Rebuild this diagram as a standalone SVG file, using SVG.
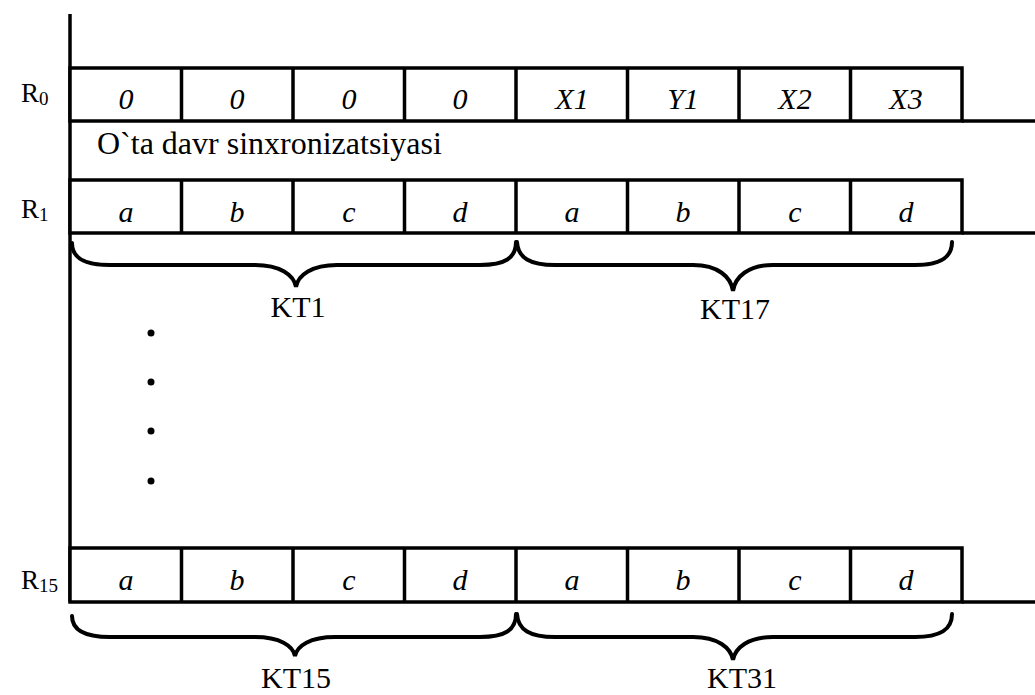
<svg xmlns="http://www.w3.org/2000/svg" width="1035" height="695" viewBox="0 0 1035 695">
<style>
.ln{stroke:#000;stroke-width:3.5;fill:none}
.br{stroke:#000;stroke-width:4;fill:none;stroke-linecap:round}
.cell{fill:#fff;stroke:#000;stroke-width:3.5}
.ct{font-family:"Liberation Serif","Times New Roman",serif;font-style:italic;font-size:30px;text-anchor:middle}
.lb{font-family:"Liberation Serif","Times New Roman",serif;font-size:30px}
.sy{font-family:"Liberation Serif","Times New Roman",serif;font-size:32px}
.rl{font-family:"Liberation Serif","Times New Roman",serif;font-size:27px}
.sub{font-size:19px}
</style>
<rect width="1035" height="695" fill="#fff"/>
<g id="connectors">
<line class="ln" x1="70" y1="14" x2="70" y2="602"/>
<line class="ln" x1="962" y1="121" x2="1035" y2="121"/>
<line class="ln" x1="962" y1="233" x2="1035" y2="233"/>
<line class="ln" x1="962" y1="602" x2="1035" y2="602"/>
</g>
<g id="R0">
<text class="rl" x="21" y="102">R<tspan class="sub" dy="3">0</tspan></text>
<rect class="cell" x="70" y="68" width="892" height="53"/>
<path class="ln" d="M181.5 68V121M293 68V121M404.5 68V121M516 68V121M627.5 68V121M739 68V121M850.5 68V121"/>
<text class="ct" x="126" y="109">0</text>
<text class="ct" x="237" y="109">0</text>
<text class="ct" x="349" y="109">0</text>
<text class="ct" x="460" y="109">0</text>
<text class="ct" x="572" y="109">X1</text>
<text class="ct" x="683" y="109">Y1</text>
<text class="ct" x="795" y="109">X2</text>
<text class="ct" x="906" y="109">X3</text>
</g>
<g id="sync">
<text class="sy" x="97" y="154">O`ta davr sinxronizatsiyasi</text>
</g>
<g id="R1">
<text class="rl" x="21" y="218">R<tspan class="sub" dy="3">1</tspan></text>
<rect class="cell" x="70" y="180" width="892" height="53"/>
<path class="ln" d="M181.5 180V233M293 180V233M404.5 180V233M516 180V233M627.5 180V233M739 180V233M850.5 180V233"/>
<text class="ct" x="126" y="222">a</text>
<text class="ct" x="237" y="222">b</text>
<text class="ct" x="349" y="222">c</text>
<text class="ct" x="460" y="222">d</text>
<text class="ct" x="572" y="222">a</text>
<text class="ct" x="683" y="222">b</text>
<text class="ct" x="795" y="222">c</text>
<text class="ct" x="906" y="222">d</text>
</g>
<g id="KT1">
<path class="br" d="M72 243C72 258 84 265 110 265H255C280 265 294 275 296 287C298 275 312 265 337 265H480C505 265 516 258 516 242"/>
<text class="lb" x="298" y="317" text-anchor="middle">KT1</text>
</g>
<g id="KT17">
<path class="br" d="M517 242C518 258 530 265 555 265H693C718 265 731 277 733 291C735 277 748 265 773 265H915C940 265 952 258 952 242"/>
<text class="lb" x="735" y="319" text-anchor="middle">KT17</text>
</g>
<g id="dots">
<circle cx="151" cy="333" r="3.5"/>
<circle cx="151" cy="382" r="3.5"/>
<circle cx="151" cy="431" r="3.5"/>
<circle cx="151" cy="481" r="3.5"/>
</g>
<g id="R15">
<text class="rl" x="21" y="589">R<tspan class="sub" dy="3">15</tspan></text>
<rect class="cell" x="70" y="548" width="892" height="54"/>
<path class="ln" d="M181.5 548V602M293 548V602M404.5 548V602M516 548V602M627.5 548V602M739 548V602M850.5 548V602"/>
<text class="ct" x="126" y="590">a</text>
<text class="ct" x="237" y="590">b</text>
<text class="ct" x="349" y="590">c</text>
<text class="ct" x="460" y="590">d</text>
<text class="ct" x="572" y="590">a</text>
<text class="ct" x="683" y="590">b</text>
<text class="ct" x="795" y="590">c</text>
<text class="ct" x="906" y="590">d</text>
</g>
<g id="KT15">
<path class="br" d="M72 616C72 630 84 637 110 637H255C280 637 293 646 295 656C297 646 310 637 335 637H480C505 637 516 630 516 614"/>
<text class="lb" x="296" y="688" text-anchor="middle">KT15</text>
</g>
<g id="KT31">
<path class="br" d="M517 614C518 630 530 637 555 637H693C718 637 731 648 733 660C735 648 748 637 773 637H915C940 637 952 630 952 614"/>
<text class="lb" x="742" y="688" text-anchor="middle">KT31</text>
</g>
</svg>
